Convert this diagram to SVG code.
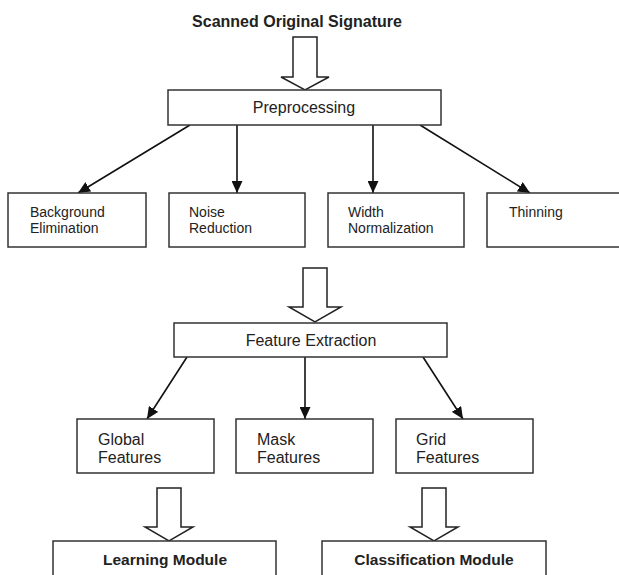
<svg xmlns="http://www.w3.org/2000/svg" width="619" height="575" viewBox="0 0 619 575">
<defs>
<style>
.box{fill:#fff;stroke:#333;stroke-width:1.5}
.blk{fill:#fff;stroke:#222;stroke-width:1.5;stroke-linejoin:miter}
.con{stroke:#111;stroke-width:1.6;fill:none}
text{font-family:"Liberation Sans",Arial,sans-serif;fill:#222}
.t14{font-size:14px}
.t16{font-size:16px}
.hd{font-size:16px;text-anchor:middle}
.bold{font-weight:bold;text-anchor:middle}
</style>
<marker id="ah" markerUnits="userSpaceOnUse" markerWidth="13" markerHeight="11" refX="12" refY="5.5" orient="auto">
<path d="M0,0 L12,5.5 L0,11 z" fill="#111"/>
</marker>
</defs>
<rect width="619" height="575" fill="#fff"/>

<g id="title"><text class="bold" x="297" y="27" font-size="16">Scanned Original Signature</text></g>

<g id="block-arrows">
<polygon class="blk" points="293,37 317,37 317,77 329,77 305,90 281,77 293,77"/>
<polygon class="blk" points="303,268 327,268 327,307 341,307 315,322 289,307 303,307"/>
<polygon class="blk" points="157,488 181,488 181,527 193,527 169,541 145,527 157,527"/>
<polygon class="blk" points="422,488 446,488 446,527 458,527 434,541 410,527 422,527"/>
</g>

<g id="connectors">
<line class="con" x1="190" y1="125" x2="78" y2="193" marker-end="url(#ah)"/>
<line class="con" x1="237" y1="125" x2="237" y2="193" marker-end="url(#ah)"/>
<line class="con" x1="373" y1="125" x2="373" y2="193" marker-end="url(#ah)"/>
<line class="con" x1="420" y1="125" x2="530" y2="193" marker-end="url(#ah)"/>
<line class="con" x1="187" y1="357" x2="147" y2="419" marker-end="url(#ah)"/>
<line class="con" x1="305" y1="357" x2="305" y2="419" marker-end="url(#ah)"/>
<line class="con" x1="423" y1="357" x2="463" y2="419" marker-end="url(#ah)"/>
</g>

<g id="preprocessing">
<rect class="box" x="168" y="90" width="273" height="35"/>
<text class="hd" x="304" y="113">Preprocessing</text>
</g>

<g id="background-elimination">
<rect class="box" x="8" y="193" width="138" height="54"/>
<text class="t14" x="30" y="217">Background</text>
<text class="t14" x="30" y="233">Elimination</text>
</g>
<g id="noise-reduction">
<rect class="box" x="169" y="193" width="136" height="54"/>
<text class="t14" x="189" y="217">Noise</text>
<text class="t14" x="189" y="233">Reduction</text>
</g>
<g id="width-normalization">
<rect class="box" x="328" y="193" width="136" height="54"/>
<text class="t14" x="348" y="217">Width</text>
<text class="t14" x="348" y="233">Normalization</text>
</g>
<g id="thinning">
<rect class="box" x="487" y="193" width="140" height="54"/>
<text class="t14" x="509" y="217">Thinning</text>
</g>

<g id="feature-extraction">
<rect class="box" x="174" y="323" width="273" height="34"/>
<text class="hd" x="311" y="346">Feature Extraction</text>
</g>

<g id="global-features">
<rect class="box" x="77" y="419" width="137" height="54"/>
<text class="t16" x="98" y="445">Global</text>
<text class="t16" x="98" y="463">Features</text>
</g>
<g id="mask-features">
<rect class="box" x="236" y="419" width="137" height="54"/>
<text class="t16" x="257" y="445">Mask</text>
<text class="t16" x="257" y="463">Features</text>
</g>
<g id="grid-features">
<rect class="box" x="396" y="419" width="137" height="54"/>
<text class="t16" x="416" y="445">Grid</text>
<text class="t16" x="416" y="463">Features</text>
</g>

<g id="learning-module">
<rect class="box" x="53" y="541" width="223" height="50"/>
<text class="bold" x="165" y="565" font-size="15.5">Learning Module</text>
</g>
<g id="classification-module">
<rect class="box" x="322" y="541" width="224" height="50"/>
<text class="bold" x="434" y="565" font-size="15.5">Classification Module</text>
</g>
</svg>
